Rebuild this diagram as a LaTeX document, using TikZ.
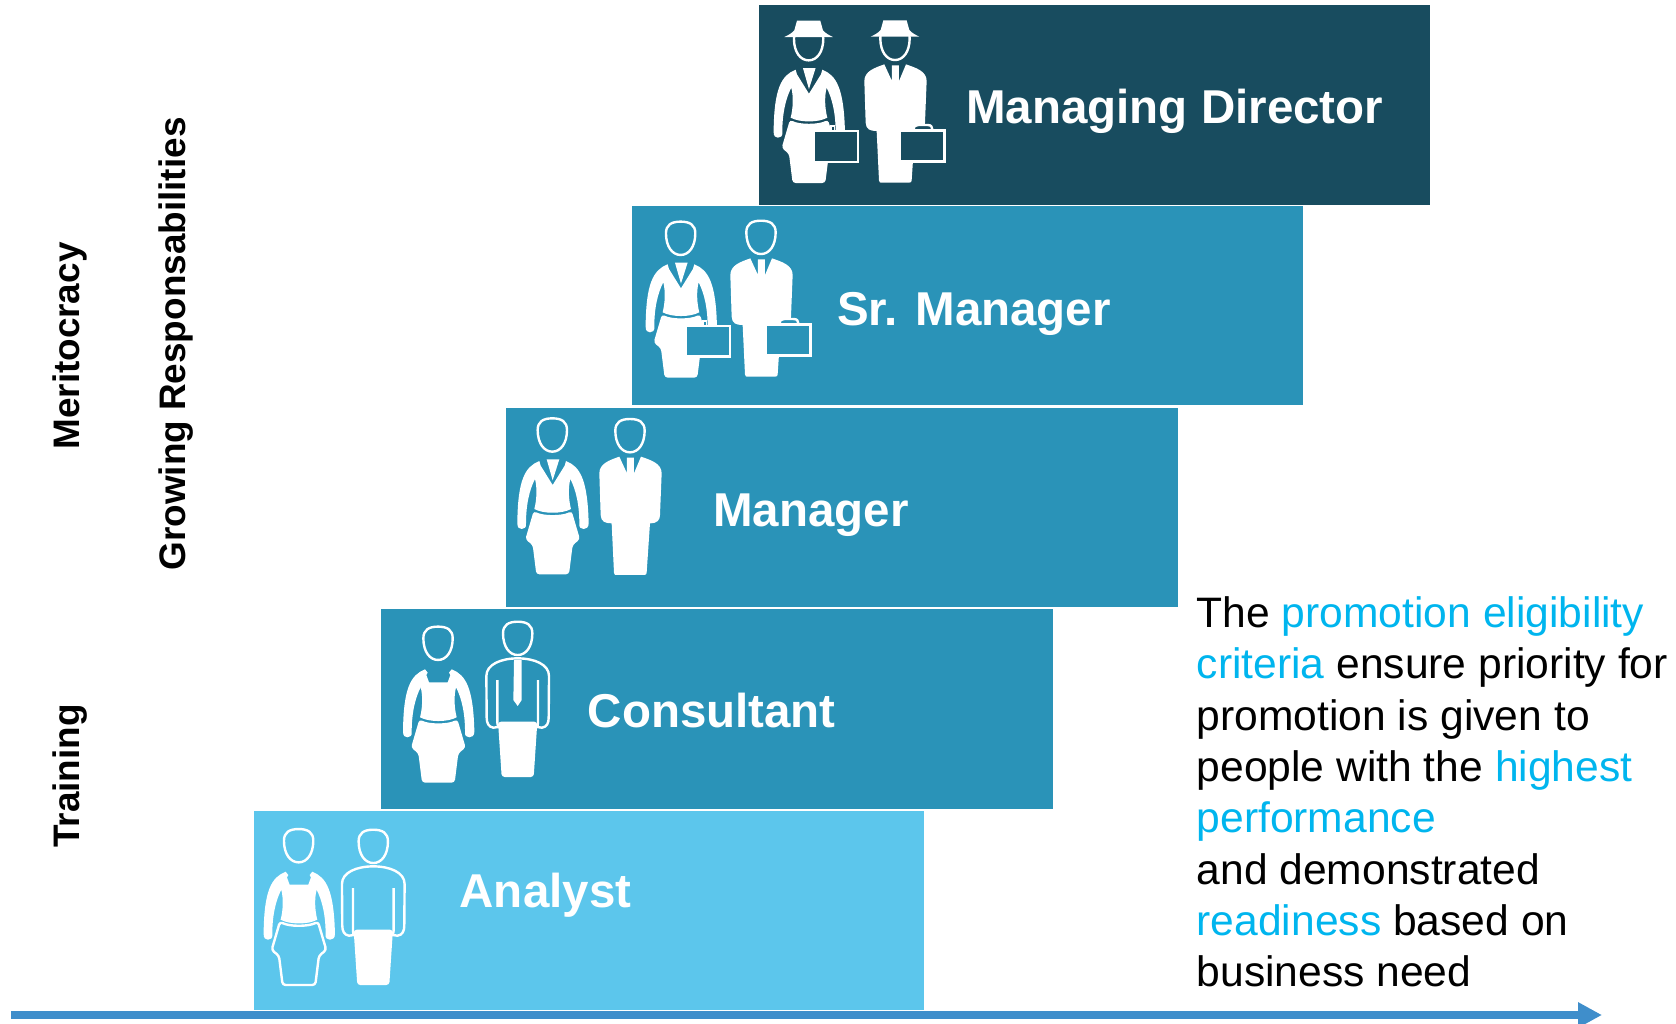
\documentclass[tikz,border=0pt]{standalone}
\usepackage{fontspec}
\setmainfont{Liberation Sans}
\usetikzlibrary{arrows.meta}
\definecolor{mdblue}{HTML}{184C5F}
\definecolor{midblue}{HTML}{2A93B8}
\definecolor{lightblue}{HTML}{5CC6EC}
\definecolor{axisblue}{HTML}{3F8ECB}
\definecolor{hilite}{HTML}{00B5EE}
\tikzset{
  levelbox/.style={fill=#1,draw=none},
  levellabel/.style={text=white,font=\fontsize{47.5}{50}\selectfont\bfseries,anchor=west,inner sep=0pt},
  sidelabel/.style={text=black,font=\fontsize{36.9}{40}\selectfont\bfseries,rotate=90,inner sep=0pt},
  figline/.style={draw=white,line width=2.4pt,line join=round,fill=none},
}
% head centred at the given point
\newcommand{\headpath}{(0,-50) .. controls (28,-50) and (44,-40) .. (44,-15) .. controls (44,25) and (25,50) .. (0,50) .. controls (-25,50) and (-44,25) .. (-44,-15) .. controls (-44,-40) and (-28,-50) .. (0,-50) -- cycle}
\newcommand{\fighead}[2]{\draw[figline,shift={(#1,#2)}] \headpath;}
\newcommand{\hatted}[2]{%
  \begin{scope}[shift={(#1,#2)}]
    \begin{scope}\clip (-60,-20) rectangle (60,60); \draw[figline] \headpath; \end{scope}
    \fill[white] (-35,-69) -- (35,-69) -- (43,-40) .. controls (50,-32) and (60,-26) .. (73,-20) -- (-73,-20) .. controls (-60,-26) and (-50,-32) .. (-43,-40) -- cycle;
  \end{scope}}
\newcommand{\armsend}{(105,222) .. controls (112,250) and (110,285) .. (103,312) .. controls (130,327) and (186,327) .. (213,312) .. controls (206,285) and (204,250) .. (211,222) .. controls (228,255) and (238,300) .. (238,355) .. controls (236,368) and (244,372) .. (251,372) .. controls (258,372) and (266,368) .. (266,355) .. controls (263,225) and (241,185) .. (198,168)}
\newcommand{\armsstart}{(118,168) .. controls (75,185) and (53,225) .. (52,355) .. controls (52,368) and (58,372) .. (65,372) .. controls (72,372) and (80,368) .. (78,355) .. controls (78,300) and (88,255) .. }
\newcommand{\skirtpath}{[rounded corners=3pt] (101,318) .. controls (130,333) and (186,333) .. (215,318) -- (240,403) -- (218,420) -- (207,508) -- (109,508) -- (98,420) -- (76,403) -- cycle}
\newcommand{\womanV}{%
  \fill[white] \armsstart \armsend -- (194,182) -- (158,240) -- (122,182) -- cycle;
  \fill[white] (140,163) -- (178,163) -- (158,226) -- cycle;}
\newcommand{\womanSq}{%
  \fill[white] \armsstart \armsend -- (190,178) -- (194,185) -- (186,207) -- (130,207) -- (122,185) -- (126,178) -- cycle;}
\newcommand{\manSuit}{%
  \fill[white] (358,155) .. controls (330,165) and (298,175) .. (298,205) -- (302,330) .. controls (303,350) and (315,355) .. (335,355) -- (342,503) .. controls (342,510) and (346,510) .. (350,510) -- (432,510) .. controls (438,510) and (440,508) .. (440,503) -- (450,355) .. controls (472,355) and (480,345) .. (480,330) -- (485,205) .. controls (485,175) and (452,165) .. (423,155) -- (402,205) -- (402,158) -- (381,158) -- (381,205) -- cycle;}
\newcommand{\manOutline}{%
  \draw[figline] (329,217) -- (329,345) -- (331,358) -- (317,360) .. controls (302,358) and (297,345) .. (297,330) -- (296,205) .. controls (296,170) and (340,152) .. (390,152) .. controls (440,152) and (484,170) .. (484,205) -- (483,330) .. controls (483,345) and (478,358) .. (463,360) -- (449,358) -- (451,345) -- (451,217);
  \fill[white,rounded corners=3pt] (331,342) -- (449,342) -- (438,508) -- (342,508) -- cycle;}
\newcommand{\manTie}{\fill[white] (379,157) -- (402,157) -- (402,277) -- (390,295) -- (377,277) -- cycle;}
% briefcases: #1 background colour
\newcommand{\womanCase}[1]{%
  \fill[white] (222,335) rectangle (237,349);
  \fill[#1] (227,340) rectangle (232,349);
  \fill[white] (168,349) rectangle (309,449);
  \fill[#1] (175,356) rectangle (302,441);}
\newcommand{\manCase}[1]{%
  \draw[figline,fill=#1] (446,350) .. controls (446,339) and (455,337) .. (460,337) -- (488,337) .. controls (498,337) and (502,342) .. (502,350);
  \fill[white] (408,350) rectangle (542,450);
  \fill[#1] (408,357) rectangle (535,442);}
\begin{document}
\begin{tikzpicture}[x=1pt,y=-1pt]
\useasboundingbox (0,0) rectangle (1676,1023);
% steps
\fill[levelbox=lightblue] (254,811) rectangle (924,1010);
\fill[levelbox=midblue] (381,609) rectangle (1053,809);
\fill[levelbox=midblue] (506,408) rectangle (1178,607);
\fill[levelbox=midblue] (632,206) rectangle (1303,405);
\fill[levelbox=mdblue] (759,5) rectangle (1430,205);
% Analyst figures
\begin{scope}[shift={(246.3,815.7)},scale=0.3333]
  \fighead{157}{90}
  \womanSq
  \draw[figline] \skirtpath;
\end{scope}
\begin{scope}[shift={(243.3,815.7)},scale=0.3333]
  \fighead{390}{92}
  \manOutline
\end{scope}
% Consultant figures
\begin{scope}[shift={(385.7,613.3)},scale=0.3333]
  \fighead{157}{90}
  \womanSq
  \fill[white] \skirtpath;
\end{scope}
\begin{scope}[shift={(387.7,607.7)},scale=0.3333]
  \fighead{390}{92}
  \manOutline
  \manTie
\end{scope}
% Manager figures
\begin{scope}[shift={(500,405)},scale=0.3333]
  \fighead{157}{90}
  \womanV
  \fill[white] \skirtpath;
  \fighead{390}{92}
  \manSuit
\end{scope}
% Sr. Manager figures
\begin{scope}[shift={(628.3,208.3)},scale=0.3333]
  \fighead{157}{90}
  \womanV
  \fill[white] \skirtpath;
  \womanCase{midblue}
\end{scope}
\begin{scope}[shift={(631,206.7)},scale=0.3333]
  \fighead{390}{92}
  \manSuit
  \manCase{midblue}
\end{scope}
% Managing Director figures
\begin{scope}[shift={(756.3,13.7)},scale=0.3333]
  \hatted{157}{90}
  \womanV
  \fill[white] \skirtpath;
  \womanCase{mdblue}
\end{scope}
\begin{scope}[shift={(765,12.7)},scale=0.3333]
  \hatted{390}{92}
  \manSuit
  \manCase{mdblue}
\end{scope}
% labels
\node[levellabel] (mdlabel) at (966,111.3) {Managing Director};
\node[levellabel] (srlabel) at (837,314) {Sr. Manager};
\node[levellabel] (mglabel) at (713,515) {Manager};
\node[levellabel] (cslabel) at (587.5,711) {Consultant};
\node[levellabel] (anlabel) at (459.5,895) {Analyst};
\node[sidelabel] (merit) at (70,346) {Meritocracy};
\node[sidelabel] (grow) at (176,344) {Growing Responsabilities};
\node[sidelabel] (train) at (70.5,776) {Training};
\node[anchor=north west,inner sep=0pt,align=left,font=\fontsize{42.6}{51.3}\selectfont] (note) at (1196.5,596.5) {The \textcolor{hilite}{promotion eligibility}\\
\textcolor{hilite}{criteria} ensure priority for\\
promotion is given to\\
people with the \textcolor{hilite}{highest}\\
\textcolor{hilite}{performance}\\
and demonstrated\\
\textcolor{hilite}{readiness} based on\\
business need};
% axis
\coordinate (axisL) at (11,1015);
\coordinate (axisR) at (1602,1015);
\draw[axisblue,line width=8pt,-{Triangle[length=24pt,width=24pt]}] (axisL) -- (axisR);
\end{tikzpicture}
\end{document}
